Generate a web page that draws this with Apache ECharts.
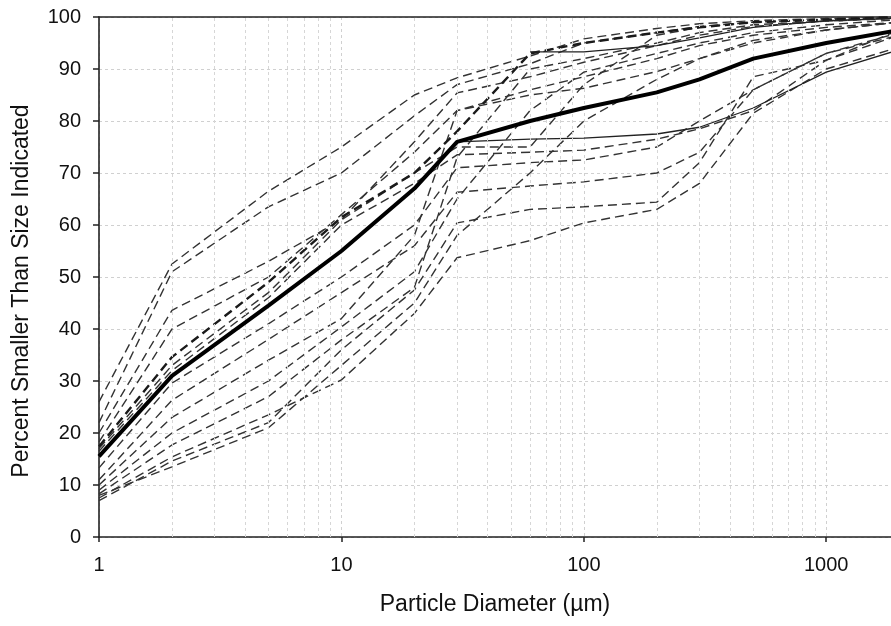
<!DOCTYPE html>
<html>
<head>
<meta charset="utf-8">
<script src="https://cdn.jsdelivr.net/npm/echarts@6/dist/echarts.min.js"></script>
<style>
html,body{margin:0;padding:0;background:#fff;}
#chart{width:891px;height:626px;}
</style>
</head>
<body>
<div id="chart"></div>
<script>
// Particle sizes (µm) at which each distribution is sampled
var sizes = [1, 2, 5, 10, 20, 30, 60, 100, 200, 300, 500, 1000, 2000];

// Average (thick solid) curve
var average = [15.5, 31, 44.5, 55, 67, 76, 80, 82.5, 85.5, 88, 92, 95, 97.5];

// Thin solid curves
var solid1 = [null, null, null, null, null, null, 93.3, 93.3, 94.5, 96, 98, 99.3, 99.8];
var solid2 = [null, null, null, null, null, 76, 76.5, 76.7, 77.5, 78.8, 82.5, 89.4, 93.7];

// Bold dashed curve
var boldDashed = [17.4, 34.6, 49, 61.5, 70, 78, 93, 95, 97, 98, 99, 99.5, 100];

// Individual sample curves (dashed)
var d1  = [26, 52.5, 66.5, 75, 85, 88.3, 92.5, 95.8, 97.8, 98.7, 99.3, 99.7, 100];
var d2  = [22, 51, 63.5, 70, 81, 87, 91, 95, 97, 98.2, 99, 99.5, 99.9];
var d3  = [20, 43.6, 53, 61, 76, 85.4, 88.5, 91.3, 94.5, 96.5, 98.2, 99.2, 99.7];
var d4  = [18.3, 40, 50, 62, 74, 82, 85, 86.3, 89.5, 92, 95.5, 97.5, 99];
var d5  = [17, 33, 47, 61, 70, 75, 75, 87, 96.5, 98, 99, 99.5, 100];
var d6  = [16.5, 32, 46, 60, 68, 73.5, 74, 74.4, 76.5, 78.5, 82, 91.7, 96.5];
var d7  = [13.3, 29.6, 41, 50, 60, 71, 72, 72.5, 75, 80, 86, 93, 97];
var d8  = [11, 26.3, 38, 47, 56, 66.3, 67.5, 68.3, 70, 74, 86, 93, 96.5];
var d9  = [10, 23, 34, 42, 58, 82, 86, 88.5, 92, 94.5, 96.5, 98, 99];
var d10 = [9, 20, 30, 40.4, 51, 65, 82, 89.4, 93, 95, 97, 98.5, 99.5];
var d11 = [8.3, 17.7, 27, 37.9, 48, 73, 90, 92, 95, 97, 98.5, 99.2, 99.8];
var d12 = [7.5, 15.4, 23.5, 30.2, 43, 53.7, 57, 60.4, 63, 68, 81.5, 90, 94.2];
var d13 = [7, 14.6, 22, 36, 47.5, 60.4, 63, 63.5, 64.4, 72, 88.5, 91.7, 97.5];
var d14 = [8, 13.5, 21, 33, 45, 58, 70, 80, 88, 92, 95, 97.5, 99];
var dashedSets = [d1, d2, d3, d4, d5, d6, d7, d8, d9, d10, d11, d12, d13, d14];

// Axis tick values
var xMajorTicks = [1, 10, 100, 1000];
var xMinorGrid = [2,3,4,5,6,7,8,9,20,30,40,50,60,70,80,90,200,300,400,500,600,700,800,900];

function pairs(vals) {
  return sizes.map(function (s, i) { return [s, vals[i]]; });
}

var FONT = 'Liberation Sans, Arial, Helvetica, sans-serif';
var series = [];
// minor vertical grid lines
series.push({
  type: 'line', data: [], silent: true,
  markLine: {
    silent: true, symbol: 'none', animation: false,
    label: {show: false},
    lineStyle: {color: '#d6d6d6', type: [3, 3], width: 1},
    data: xMinorGrid.map(function (v) { return {xAxis: v}; })
  }
});
dashedSets.forEach(function (arr) {
  series.push({
    type: 'line', data: pairs(arr), symbol: 'none', silent: true,
    lineStyle: {color: '#333', width: 1.4, type: [9, 5]}
  });
});
series.push({
  type: 'line', data: pairs(boldDashed), symbol: 'none', silent: true,
  lineStyle: {color: '#1a1a1a', width: 2.4, type: [9, 5]}
});
[solid1, solid2].forEach(function (arr) {
  series.push({
    type: 'line', data: pairs(arr), symbol: 'none', silent: true,
    lineStyle: {color: '#222', width: 1.3, type: 'solid'}
  });
});
series.push({
  type: 'line', data: pairs(average), symbol: 'none', silent: true, z: 5,
  lineStyle: {color: '#000', width: 4, type: 'solid'}
});

var chart = echarts.init(document.getElementById('chart'), null, {renderer: 'canvas'});
chart.setOption({
  animation: false,
  backgroundColor: '#fff',
  grid: {left: 99, right: 0, top: 17, bottom: 89},
  xAxis: [{
    type: 'log', logBase: 10, min: 1, max: 1850,
    name: 'Particle Diameter (\u00b5m)', nameLocation: 'middle', nameGap: 56,
    nameTextStyle: {fontFamily: FONT, fontSize: 23, color: '#111'},
    axisLine: {lineStyle: {color: '#222', width: 1.6}},
    axisTick: {show: true, length: 5, lineStyle: {color: '#222', width: 1.5}, customValues: xMajorTicks},
    axisLabel: {fontFamily: FONT, fontSize: 20, color: '#111', margin: 18,
                customValues: xMajorTicks, formatter: function (v) { return String(Math.round(v)); }},
    splitLine: {show: true, lineStyle: {color: '#d0d0d0', type: [3, 3], width: 1}},
    minorTick: {show: false}
  }, {
    type: 'log', logBase: 10, min: 1, max: 1850, position: 'top',
    axisLine: {show: true, lineStyle: {color: '#222', width: 1.6}},
    axisTick: {show: false}, axisLabel: {show: false}, splitLine: {show: false}
  }],
  yAxis: {
    type: 'value', min: 0, max: 100, interval: 10,
    name: 'Percent Smaller Than Size Indicated', nameLocation: 'middle', nameGap: 66,
    nameTextStyle: {fontFamily: FONT, fontSize: 23, color: '#111', padding: [0, 28, 0, 0]},
    axisLine: {show: true, lineStyle: {color: '#222', width: 1.6}},
    axisTick: {show: true, length: 6, lineStyle: {color: '#222', width: 1.5}},
    axisLabel: {fontFamily: FONT, fontSize: 20, color: '#111', margin: 18},
    splitLine: {show: true, lineStyle: {color: '#d0d0d0', type: [3, 3], width: 1}}
  },
  series: series
});
</script>
</body>
</html>
